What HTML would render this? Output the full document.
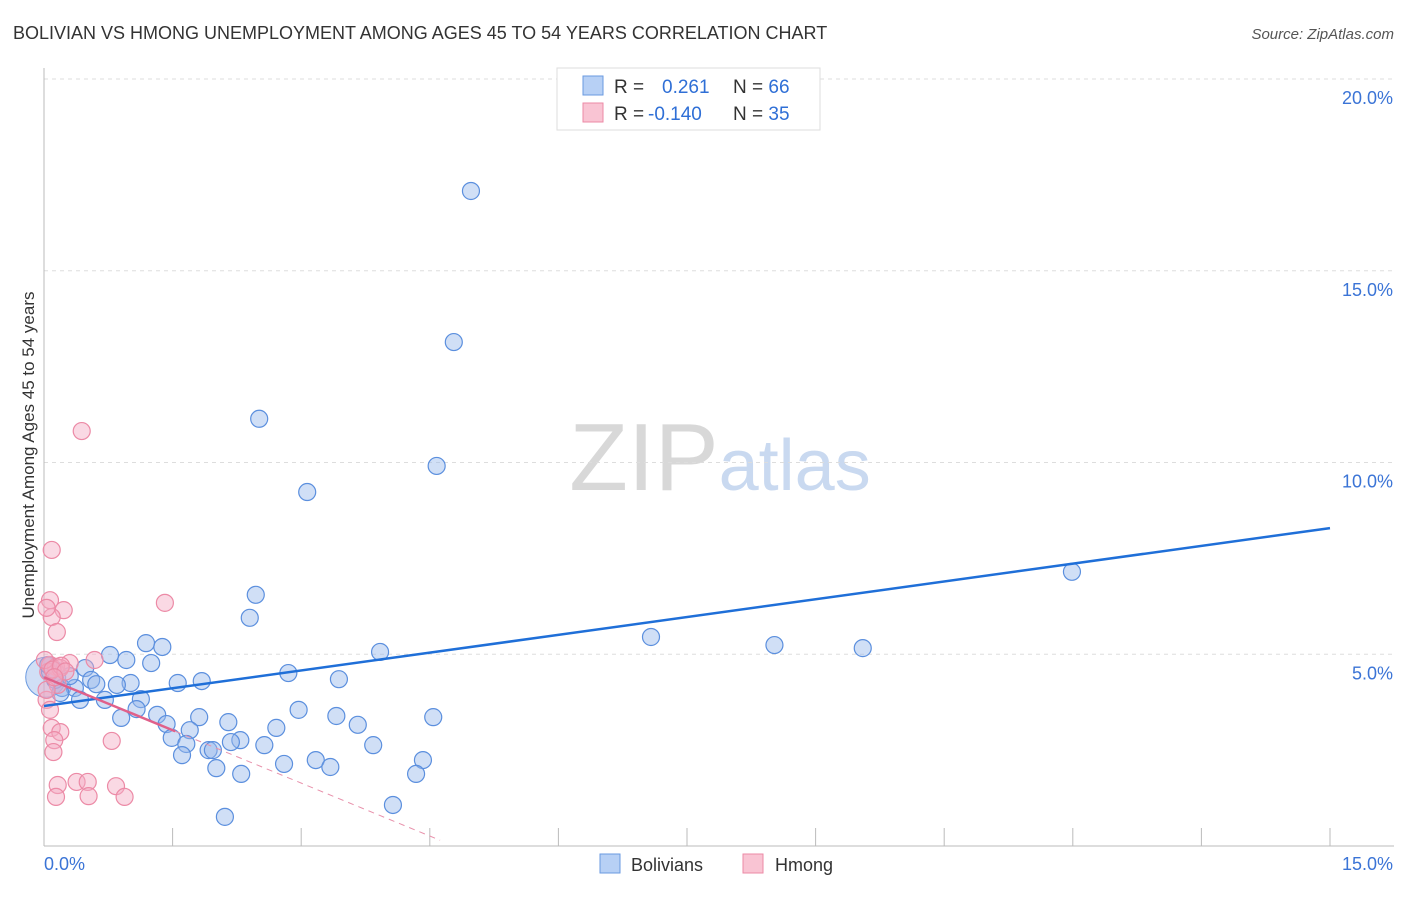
<!DOCTYPE html>
<html><head><meta charset="utf-8"><style>
body{margin:0;background:#fff;font-family:"Liberation Sans",sans-serif;}
svg text{font-family:"Liberation Sans",sans-serif;}
</style></head><body>
<svg id="chart" width="1406" height="892" xmlns="http://www.w3.org/2000/svg">
<text x="13" y="39" font-size="18" fill="#333">BOLIVIAN VS HMONG UNEMPLOYMENT AMONG AGES 45 TO 54 YEARS CORRELATION CHART</text>
<text x="1394" y="39" font-size="15" fill="#555" text-anchor="end" font-style="italic">Source: ZipAtlas.com</text>
<text x="720" y="490" font-size="96" text-anchor="middle" fill="#ddd" font-family="Liberation Serif"><tspan fill="#d8d8d8">ZIP</tspan><tspan fill="#c9d9f0" font-family="Liberation Sans" font-size="72">atlas</tspan></text>
<text transform="translate(34,455) rotate(-90)" font-size="17" fill="#333" text-anchor="middle">Unemployment Among Ages 45 to 54 years</text>
<g id="grid"></g><g id="axes"></g><g id="marks"></g><g id="lines"></g>
<g>
<rect x="557" y="68" width="263" height="62" fill="#fff" stroke="#ddd"/>
<rect x="583" y="76" width="20" height="19" fill="#b7d0f5" stroke="#6a9ae0"/>
<rect x="583" y="103" width="20" height="19" fill="#f9c4d3" stroke="#ec8aa6"/>
<text x="614" y="93" font-size="19" fill="#333">R =  <tspan fill="#2f6fd6" x="662">0.261</tspan><tspan x="733" fill="#333">N = </tspan><tspan fill="#2f6fd6">66</tspan></text>
<text x="614" y="120" font-size="19" fill="#333">R = <tspan fill="#2f6fd6" x="648">-0.140</tspan><tspan x="733" fill="#333">N = </tspan><tspan fill="#2f6fd6">35</tspan></text>
</g>
<g>
<rect x="600" y="854" width="20" height="19" fill="#b7d0f5" stroke="#6a9ae0"/>
<text x="631" y="871" font-size="18" fill="#333">Bolivians</text>
<rect x="743" y="854" width="20" height="19" fill="#f9c4d3" stroke="#ec8aa6"/>
<text x="775" y="871" font-size="18" fill="#333">Hmong</text>
</g>
</svg>
<script>
const yTicks=[5,10,15,20];
const yTickLabels=["5.0%","10.0%","15.0%","20.0%"];
const xTicks=[0,1.5,3,4.5,6,7.5,9,10.5,12,13.5,15];
const blueX=[4.98,4.78,2.51,4.58,3.07,11.99,2.47,2.40,7.08,8.52,9.55,1.19,1.38,0.77,0.96,1.25,3.92,0.48,2.85,0.55,0.61,1.56,1.84,3.44,1.01,0.85,0.21,0.36,0.71,1.13,1.08,2.97,0.90,1.32,1.81,3.41,4.54,1.43,2.15,3.66,1.70,2.71,1.49,1.66,2.29,2.18,2.57,3.84,1.92,1.97,1.61,3.17,4.42,2.80,3.34,2.01,2.30,4.34,4.07,2.11,0.07,0.13,0.19,0.30,0.05,0.42];
const blueY=[17.08,13.14,11.14,9.91,9.23,7.15,6.55,5.95,5.45,5.24,5.16,5.29,5.19,4.98,4.85,4.77,5.06,4.64,4.51,4.33,4.22,4.25,4.30,4.35,4.25,4.20,4.12,4.12,3.81,3.83,3.57,3.55,3.34,3.42,3.36,3.39,3.36,3.18,3.23,3.16,3.02,3.08,2.82,2.66,2.76,2.71,2.63,2.63,2.50,2.50,2.37,2.24,2.24,2.14,2.06,2.03,1.88,1.88,1.07,0.76,4.54,4.33,3.99,4.43,4.72,3.81];
const pinkX=[0.44,0.09,1.41,0.07,0.23,0.09,0.03,0.15,0.59,0.30,0.07,0.14,0.05,0.19,0.16,0.03,0.07,0.09,0.19,0.12,0.11,0.79,0.16,0.38,0.51,0.84,0.14,0.52,0.94,0.03,0.01,0.10,0.20,0.25,0.12];
const pinkY=[10.82,7.72,6.34,6.41,6.15,5.97,6.21,5.58,4.85,4.77,4.72,4.67,4.54,4.64,4.20,3.81,3.55,3.08,2.97,2.76,2.45,2.74,1.59,1.67,1.67,1.56,1.28,1.30,1.28,4.07,4.85,4.60,4.70,4.55,4.40];
const blueTrend=[3.65,8.29];
const pinkTrend=[4.40,0.15];
const X0=44,X1=1330,Y0=846,Y20=79;
const sx=v=>X0+(X1-X0)*v/15, sy=v=>Y0-(Y0-Y20)*v/20;
const NS="http://www.w3.org/2000/svg";
function mk(p,t,a){const e=document.createElementNS(NS,t);for(const k in a)e.setAttribute(k,a[k]);p.appendChild(e);return e;}
const grid=document.getElementById('grid'),axes=document.getElementById('axes'),marks=document.getElementById('marks'),lines=document.getElementById('lines');
yTicks.forEach((v,i)=>{
 const l=mk(grid,'line',{x1:X0,x2:1394,y1:sy(v),y2:sy(v),stroke:'#ddd','stroke-dasharray':'4,4'});
 
 
 const t=mk(axes,'text',{x:1393,y:sy(v)+25,'font-size':18,fill:'#3b74d6','text-anchor':'end'});t.textContent=yTickLabels[i];
 
 
});
let a=mk(axes,'line',{x1:X0,x2:X0,y1:68,y2:Y0,stroke:'#bbb'});


a=mk(axes,'line',{x1:X0,x2:1394,y1:Y0,y2:Y0,stroke:'#bbb'});


xTicks.forEach(v=>{const t=mk(axes,'line',{x1:sx(v),x2:sx(v),y1:Y0,y2:Y0-18,stroke:'#bbb'});
 
 });
let t=mk(axes,'text',{x:44,y:870,'font-size':18,fill:'#3b74d6'});t.textContent='0.0%';


t=mk(axes,'text',{x:1393,y:870,'font-size':18,fill:'#3b74d6','text-anchor':'end'});t.textContent='15.0%';


let big=mk(marks,'circle',{cx:sx(0.02),cy:sy(4.4),r:20,fill:'rgba(150,185,235,0.45)',stroke:'#6a9ae0'});


blueX.forEach((v,i)=>{const c=mk(marks,'circle',{cx:sx(v),cy:sy(blueY[i]),r:8.5,fill:'rgba(150,185,235,0.45)',stroke:'#5b8fde','stroke-width':1.2});
 
 });
pinkX.forEach((v,i)=>{const c=mk(marks,'circle',{cx:sx(v),cy:sy(pinkY[i]),r:8.5,fill:'rgba(245,170,195,0.45)',stroke:'#ec8aa6','stroke-width':1.2});
 
 });
let l=mk(lines,'line',{x1:sx(0),y1:sy(blueTrend[0]),x2:sx(15),y2:sy(blueTrend[1]),stroke:'#1f6fd8','stroke-width':2.5});


const pAt=x=>pinkTrend[0]+(pinkTrend[1]-pinkTrend[0])*x/4.62;
l=mk(lines,'line',{x1:sx(0),y1:sy(pAt(0)),x2:sx(1.53),y2:sy(pAt(1.53)),stroke:'#e0608a','stroke-width':2.5});


l=mk(lines,'line',{x1:sx(1.53),y1:sy(pAt(1.53)),x2:sx(4.62),y2:sy(pAt(4.62)),stroke:'#e891ab','stroke-width':1,'stroke-dasharray':'6,5'});


</script>
</body></html>
